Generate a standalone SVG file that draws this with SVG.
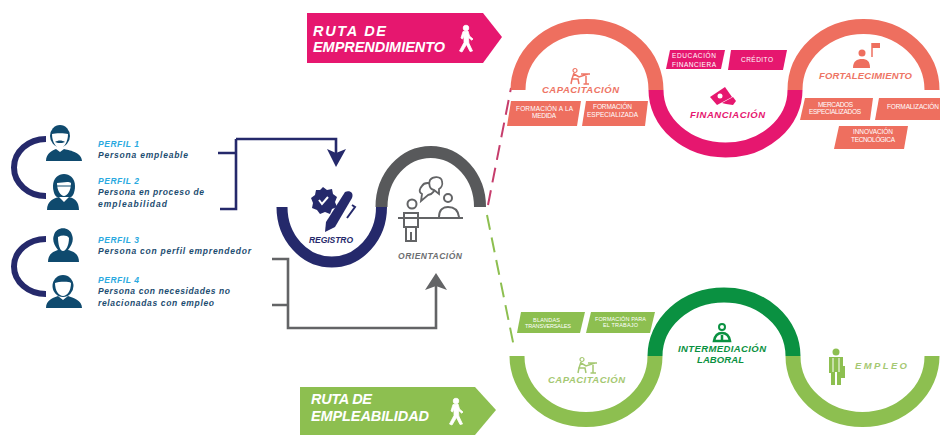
<svg xmlns="http://www.w3.org/2000/svg" width="940" height="435" viewBox="0 0 940 435">
<defs>
<style>
text{font-family:"Liberation Sans",Arial,sans-serif;font-weight:bold;font-style:italic}
.arc{fill:none;stroke-width:15}
.s{stroke:#ee6f5f}.p{stroke:#e6176f}.lg{stroke:#8dbf50}.dg{stroke:#0a9141}
.bs{fill:#ee6f5f}.bp{fill:#e6176f}.bg{fill:#8dbf50}
.w{fill:#fff}
.bt{fill:#fff;font-size:6.5px;font-weight:normal;font-style:normal}
.bt5{fill:#fff;font-size:5.5px;font-weight:normal;font-style:normal}
.rt{fill:#fff;font-size:14.5px}
.pf{fill:#29a9e0;font-size:8.5px}
.pd{fill:#1c4c70;font-size:8.5px}
.ic{fill:#0f4a6e}
.lab{font-size:9.5px}
.con{fill:none;stroke-width:2.6}
.dash{fill:none;stroke-width:2;stroke-dasharray:15 8}
.walk{fill:#fff;stroke:#fff;stroke-width:.8}
</style>
<g id="walker">
<circle cx="8" cy="3" r="2.8"/>
<path d="M5 6.500L10 6L11.500 11L15 14L13.800 15.200L10.500 12.500L10.800 18L14.500 26L12 26.500L8.500 19.500L4 27L1.500 26L6 17.500L6 11L4.500 14L3 13Z"/>
</g>
<g id="desk">
<circle cx="5" cy="2.500" r="2" fill="none" stroke-width="1.200"/>
<path fill="none" stroke-width="1.500" d="M4 5L2 11L8 11L9 16M4 6L9 9L18 6M11 6H20M16 6V16M13.500 16H19M2 11L1 16"/>
</g>
</defs>
<rect width="940" height="435" fill="#fff"/>

<g id="connectors">
<path class="con" stroke="#25296b" d="M218 153H236M236 139V209H220M236 139H336V155"/>
<path fill="#25296b" d="M327 149L336 153L346 149L336 167Z"/>
<path class="con" stroke="#636466" d="M272 259H288V328H436V285M272 305H288"/>
<path fill="#636466" d="M425 290L436 273L447 290L436 286Z"/>
<path class="dash" stroke="#c63d6c" d="M488 205L511 88"/>
<path class="dash" stroke="#8dbf50" d="M487 215L514 347"/>
<path fill="none" stroke="#25296b" stroke-width="6" d="M46 139A32 28.500 0 0 0 46 196"/>
<path fill="none" stroke="#25296b" stroke-width="6" d="M46 239A32 27.500 0 0 0 46 294"/>
</g>

<g id="ruta-emprendimiento">
<path fill="#e6176f" d="M307 13H483L502 37L483 63H307Z"/>
<text class="rt" x="313" y="36" textLength="73">RUTA DE</text>
<text class="rt" x="313" y="52" textLength="132">EMPRENDIMIENTO</text>
<use href="#walker" x="458" y="25" class="walk"/>
</g>
<g id="ruta-empleabilidad">
<path fill="#8dbf50" d="M300 387H475L496 410L475 435H300Z"/>
<text class="rt" x="311" y="404" textLength="61">RUTA DE</text>
<text class="rt" x="311" y="421" textLength="118">EMPLEABILIDAD</text>
<use href="#walker" x="448" y="398" class="walk"/>
</g>

<g id="perfil-1">
<path class="ic" d="M46 161C46 153 53 150 56 149L60 152L64 149C68 150 82 152 82 161Z"/>
<ellipse class="ic" cx="60" cy="136" rx="10" ry="11"/>
<path class="w" d="M52 134C55 133 65 133 68 134C68 142 64 148 60 148C56 148 52 142 52 134Z"/>
<path class="ic" d="M55 142C58 140 62 140 65 142L62 143H58Z"/>
<text class="pf" x="98" y="147" textLength="41">PERFIL  1</text>
<text class="pd" x="98" y="158" textLength="90">Persona empleable</text>
</g>
<g id="perfil-2">
<path class="ic" d="M47 210C47 201 54 198 59 197L64 202L69 197C74 198 79 201 79 210Z"/>
<path class="ic" d="M53 186C53 170 75 170 75 186C75 192 73 196 71 197H57C55 196 53 192 53 186Z"/>
<path class="w" d="M57 183C62 183 68 181 71 183C71 191 67 196 64 196C61 196 57 191 57 183Z"/>
<path fill="none" stroke="#0f4a6e" stroke-width="1" d="M57 186H71"/>
<text class="pf" x="98" y="184" textLength="41">PERFIL  2</text>
<text class="pd" x="98" y="195" textLength="106">Persona en proceso de</text>
<text class="pd" x="98" y="207" textLength="69">empleabilidad</text>
</g>
<g id="perfil-3">
<path class="ic" d="M48 262C48 253 55 251 58 250C54 245 52 240 54 235C56 226 70 226 72 235C74 240 72 245 68 250C72 251 79 253 79 262Z"/>
<path class="w" d="M58 237C62 235 67 235 69 238C69 245 66 251 63 251C60 251 58 245 58 237Z"/>
<text class="pf" x="98" y="243" textLength="41">PERFIL  3</text>
<text class="pd" x="98" y="254" textLength="153">Persona con perfil emprendedor</text>
</g>
<g id="perfil-4">
<path class="ic" d="M46 308C46 300 53 298 58 296L63 300L68 296C73 298 82 300 82 308Z"/>
<ellipse class="ic" cx="63" cy="286" rx="10.500" ry="11"/>
<path class="w" d="M55 283C58 282 68 281 71 283C71 291 67 296 63 296C59 296 55 291 55 283Z"/>
<text class="pf" x="98" y="283" textLength="41">PERFIL  4</text>
<text class="pd" x="98" y="294" textLength="132">Persona con necesidades no</text>
<text class="pd" x="98" y="306" textLength="116">relacionadas con empleo</text>
</g>

<g id="registro">
<path class="arc" style="stroke-width:11" stroke="#25296b" d="M282 207A49.750 55 0 0 0 381.500 207"/>
<path fill="#25296b" d="M323 187L327 190L332 189L333 194L337 197L335 202L337 207L332 209L330 214L325 212L320 214L317 210L312 208L313 203L311 198L315 195L316 190L320 190Z"/>
<path fill="none" stroke="#fff" stroke-width="2" d="M319 200L322 204L328 197"/>
<path fill="#25296b" d="M345 192C350 190 354 193 352 198L335 227L325 232L326 222Z"/>
<path fill="none" stroke="#25296b" stroke-width="2" d="M352 205L355 207L347 218"/>
<text x="309" y="243" font-size="8.500" fill="#25296b" textLength="44">REGISTRO</text>
</g>
<g id="orientacion">
<path class="arc" style="stroke-width:12" stroke="#58595b" d="M381.500 207A49.250 55 0 0 1 480 207"/>
<circle cx="412" cy="204" r="4.500" fill="none" stroke="#636466" stroke-width="2"/>
<path fill="none" stroke="#636466" stroke-width="2" d="M398 218H463M404 213H418V227H404ZM406 227V241H416V227M411 232V241"/>
<circle cx="448" cy="198" r="4" fill="none" stroke="#636466" stroke-width="2"/>
<path fill="none" stroke="#636466" stroke-width="2" d="M439 217C439 209 444 207 448 207C453 207 458 209 459 217"/>
<path fill="#fff" stroke="#636466" stroke-width="1.800" d="M422 186C424 182 431 182 434 186C436 190 433 194 428 195L421 201L422 194C418 192 420 188 422 186Z"/>
<path fill="#fff" stroke="#636466" stroke-width="1.800" d="M430 180C433 176 441 176 442 181C443 185 441 188 439 189L439 194L434 190C430 190 428 184 430 180Z"/>
<text x="398" y="259" font-size="8.500" fill="#6d6e71" textLength="64">ORIENTACIÓN</text>
</g>

<g id="capacitacion-emprendimiento">
<path class="arc s" d="M518 90A69 63.500 0 0 1 656 90"/>
<use href="#desk" x="570" y="68" stroke="#ee7565"/>
<text class="lab" x="542" y="93" fill="#ee7565" textLength="77">CAPACITACIÓN</text>
<path class="bs" d="M511 101H581L577 126H507Z"/>
<path class="bs" d="M586 101H648L645 126H582Z"/>
<text class="bt" x="516" y="111" textLength="57">FORMACIÓN A LA</text>
<text class="bt" x="532" y="118" textLength="24">MEDIDA</text>
<text class="bt" x="593" y="109" textLength="39">FORMACIÓN</text>
<text class="bt" x="587" y="117" textLength="51">ESPECIALIZADA</text>
</g>
<g id="financiacion">
<path class="arc p" d="M656 90A69.500 60 0 0 0 795 90"/>
<path class="bp" d="M670 50H725L721 69H666Z"/>
<path class="bp" d="M731 50H787L783 70H728Z"/>
<text class="bt" x="672" y="58" textLength="44">EDUCACIÓN</text>
<text class="bt" x="672" y="67" textLength="44">FINANCIERA</text>
<text class="bt" x="741" y="62" textLength="32">CRÉDITO</text>
<path fill="#e6176f" d="M710 97L725 87L732 97L717 105Z"/>
<path fill="#e6176f" d="M722 103L733 97L736 101L733 105L726 104Z"/>
<circle cx="720" cy="96" r="2.500" fill="#fff"/>
<text class="lab" x="690" y="118" fill="#e6176f" textLength="75">FINANCIACIÓN</text>
</g>
<g id="fortalecimiento">
<path class="arc s" d="M795 90A68.500 63.500 0 0 1 932 90"/>
<circle cx="862" cy="53" r="3.500" fill="#ee6f5f"/>
<path class="bs" d="M853 68C853 61 857 59 862 59C867 59 870 61 870 68Z"/>
<path fill="none" stroke="#ee6f5f" stroke-width="1.500" d="M872 43V57"/>
<path class="bs" d="M872 43H880V48H872Z"/>
<text class="lab" x="819" y="79" fill="#ee7565" textLength="93">FORTALECIMIENTO</text>
<path class="bs" d="M805 98H873L870 120H800Z"/>
<path class="bs" d="M879 98H940V120H875Z"/>
<path class="bs" d="M839 126H908L904 149H834Z"/>
<text class="bt" x="818" y="107" textLength="35">MERCADOS</text>
<text class="bt" x="809" y="114" textLength="52">ESPECIALIZADOS</text>
<text class="bt" x="887" y="109" textLength="52">FORMALIZACIÓN</text>
<text class="bt" x="853" y="134" textLength="40">INNOVACIÓN</text>
<text class="bt" x="851" y="142" textLength="44">TECNOLÓGICA</text>
</g>

<g id="capacitacion-empleabilidad">
<path class="arc lg" d="M517 356A69 63.500 0 0 0 655 356"/>
<use href="#desk" x="577" y="357" stroke="#a5c872"/>
<text class="lab" x="548" y="383" fill="#a5c872" textLength="77">CAPACITACIÓN</text>
<path class="bg" d="M521 312H585L580 333H517Z"/>
<path class="bg" d="M591 312H655L650 333H586Z"/>
<text class="bt5" x="533" y="322" textLength="27">BLANDAS</text>
<text class="bt5" x="525" y="328" textLength="46">TRANSVERSALES</text>
<text class="bt5" x="595" y="321" textLength="51">FORMACIÓN PARA</text>
<text class="bt5" x="603" y="327" textLength="35">EL TRABAJO</text>
</g>
<g id="intermediacion">
<path class="arc dg" d="M655 356A69 61 0 0 1 793 356"/>
<circle cx="722" cy="327" r="3" fill="none" stroke="#0a9141" stroke-width="2"/>
<path fill="none" stroke="#0a9141" stroke-width="2.500" d="M714 341C715 335 718 333 722 333C726 333 729 335 730 341ZM722 335V341"/>
<text class="lab" x="678" y="352" fill="#0a9141" textLength="88">INTERMEDIACIÓN</text>
<text class="lab" x="697" y="363" fill="#0a9141" textLength="47">LABORAL</text>
</g>
<g id="empleo">
<path class="arc lg" d="M793 356A69.500 63.500 0 0 0 932 356"/>
<circle cx="836" cy="352" r="3.500" fill="#8dbf50"/>
<path fill="#8dbf50" d="M829 357H843V366H845V378H841V385H837V372H835V385H831V373H829Z"/>
<path fill="none" stroke="#fff" stroke-width="1" d="M833 358V372M839 358V372"/>
<text class="lab" x="855" y="369" fill="#a5c872" textLength="52">EMPLEO</text>
</g>
</svg>
